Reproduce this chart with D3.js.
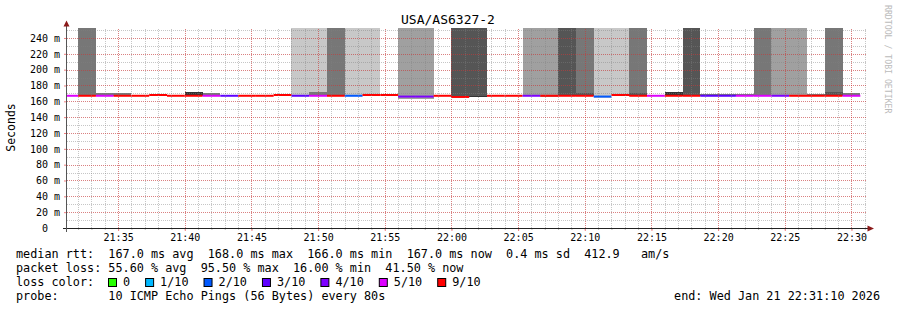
<!DOCTYPE html>
<html>
<head>
<meta charset="utf-8">
<script src="https://cdn.jsdelivr.net/npm/d3@7"></script>
<style>
body { margin: 0; background: #fff; }
svg { display: block; }
text { font-family: "DejaVu Sans Mono", monospace; white-space: pre; fill: #000; }
</style>
</head>
<body>
<svg id="chart" width="897" height="310"></svg>
<script>
"use strict";

// rrd steps (80s each), start time of every step
const stepStarts = [
    "21:30:40", "21:32:00", "21:33:20", "21:34:40", "21:36:00", "21:37:20", "21:38:40", "21:40:00",
    "21:41:20", "21:42:40", "21:44:00", "21:45:20", "21:46:40", "21:48:00", "21:49:20", "21:50:40",
    "21:52:00", "21:53:20", "21:54:40", "21:56:00", "21:57:20", "21:58:40", "22:00:00", "22:01:20",
    "22:02:40", "22:04:00", "22:05:20", "22:06:40", "22:08:00", "22:09:20", "22:10:40", "22:12:00",
    "22:13:20", "22:14:40", "22:16:00", "22:17:20", "22:18:40", "22:20:00", "22:21:20", "22:22:40",
    "22:24:00", "22:25:20", "22:26:40", "22:28:00", "22:29:20"
];
const stepSeconds = 80;

// median rtt in ms (null = all pings lost)
const median = [
    167, 167, 167, 167, 167, 168, 167, 167, 167, 167, 167, 167, 168, 167, 167, 167,
    167, 168, 168, 166, 166, 167, 165.5, null, 167, 167, 167, 167, 167, 167, 166, 168,
    167, 167, 167, 167, 167, 167, 167, 167, 167, 167, 167, 167, 167
];

// lost pings out of 10
const lossCount = [
    5, 9, 5, 9, 9, 9, 9, 9, 5, 3, 9, 9, 9, 3, 5, 9,
    2, 9, 9, 4, 4, 9, 9, 10, 9, 9, 4, 9, 9, 9, 2, 9,
    9, 5, 9, 9, 3, 3, 5, 5, 4, 9, 9, 9, 5
];

// outer smoke: top in ms (goes past the top of the graph) and density 1..5
const smokeTop = [
    null, 300, null, null, null, null, null, null, null, null, null, null, null, 300, 300, 300,
    300, 300, null, 300, 300, null, 300, 300, null, null, 300, 300, 300, 300, 300, 300,
    300, null, null, 300, null, null, null, 300, 300, 300, null, 300, null
];
const smokeDensity = [
    0, 3, 0, 0, 0, 0, 0, 0, 0, 0, 0, 0, 0, 1, 1, 3,
    1, 1, 0, 2, 2, 0, 4, 4, 0, 0, 2, 2, 4, 3, 1, 1,
    3, 0, 0, 4, 0, 0, 0, 3, 2, 2, 0, 3, 0
];
// lowest ping in ms where it sits below the median
const smokeBottom = [
    null, null, null, null, null, null, null, null, null, null, null, null, null, null, null, null,
    null, null, null, 163.5, 163.5, null, 165, 165.8, null, null, null, 165, null, null, 164.5, null,
    null, null, null, null, null, null, null, null, null, null, null, null, null
];

// inner smoke close to the median
const coreTop = [
    null, null, 170, 170, null, null, null, 171.5, 170, null, null, null, null, null, 172, null,
    null, null, null, null, null, null, null, 167.2, null, null, null, null, null, 170.5, null, null,
    170, null, 172, null, 169.5, 169.5, 169.5, null, null, null, 169.5, 171.5, 171
];
const coreDensity = [
    0, 0, 3, 3, 0, 0, 0, 5, 3, 0, 0, 0, 0, 0, 3, 0,
    0, 0, 0, 0, 0, 0, 0, 5, 0, 0, 0, 0, 0, 4, 0, 0,
    4, 0, 5, 0, 3, 3, 3, 0, 0, 0, 3, 4, 3
];

const yTicks = [0, 20, 40, 60, 80, 100, 120, 140, 160, 180, 200, 220, 240];
const lossLevels = [0, 1, 2, 3, 4, 5, 9];
const lossLabels = ["0", "1/10", "2/10", "3/10", "4/10", "5/10", "9/10"];
const lossColors = ["#26ff00", "#00b8ff", "#0059ff", "#5e00ff", "#7e00ff", "#dd00ff", "#ff0000"];

const title = "USA/AS6327-2";
const legendRows = [
    "median rtt:  167.0 ms avg  168.0 ms max  166.0 ms min  167.0 ms now  0.4 ms sd  412.9   am/s",
    "packet loss: 55.60 % avg  95.50 % max  16.00 % min  41.50 % now"
];
const probeText = "probe:       10 ICMP Echo Pings (56 Bytes) every 80s";
const endText = "end: Wed Jan 21 22:31:10 2026";

const parseTime = d3.timeParse("%Y-%m-%d %H:%M:%S");
const startTime = parseTime("2026-01-21 21:31:10");
const endTime = parseTime("2026-01-21 22:31:10");

const svg = d3.select("#chart");

const x = d3.scaleTime().domain([startTime, endTime]).range([67, 867]);
const y = d3.scaleLinear().domain([0, 252.6]).range([228, 28]);

const lossColor = d3.scaleThreshold()
    .domain(lossLevels.slice(1))
    .range(lossColors);
const gray = d3.scaleOrdinal()
    .domain([1, 2, 3, 4, 5])
    .range(["#c8c8c8", "#a0a0a0", "#777777", "#555555", "#333333"]);

const steps = stepStarts.map((s, i) => {
    const t0 = parseTime("2026-01-21 " + s);
    return {
        t0: t0,
        t1: d3.timeSecond.offset(t0, stepSeconds),
        med: median[i],
        loss: lossCount[i],
        top: smokeTop[i],
        dens: smokeDensity[i],
        bottom: smokeBottom[i] != null ? smokeBottom[i] : median[i],
        core: coreTop[i],
        coreDens: coreDensity[i]
    };
});

svg.append("clipPath").attr("id", "plot")
    .append("rect").attr("x", 67).attr("y", 28).attr("width", 800).attr("height", 200);

const plot = svg.append("g").attr("clip-path", "url(#plot)");

// outer smoke
plot.append("g").selectAll("rect")
    .data(steps.filter(d => d.top != null))
    .join("rect")
    .attr("shape-rendering", "crispEdges")
    .attr("x", d => x(d.t0))
    .attr("width", d => x(d.t1) - x(d.t0))
    .attr("y", d => y(d.top))
    .attr("height", d => y(d.bottom) - y(d.top))
    .attr("fill", d => gray(d.dens));

// inner smoke
plot.append("g").selectAll("rect")
    .data(steps.filter(d => d.core != null))
    .join("rect")
    .attr("shape-rendering", "crispEdges")
    .attr("x", d => x(d.t0))
    .attr("width", d => x(d.t1) - x(d.t0))
    .attr("y", d => y(d.core))
    .attr("height", d => y(d.bottom) - y(d.core))
    .attr("fill", d => gray(d.coreDens));

// grid, drawn over the smoke like rrdtool does
function grid(axis, cls, color) {
    const g = svg.append("g").attr("class", cls).call(axis);
    g.select(".domain").remove();
    g.selectAll("line")
        .attr("stroke", color)
        .attr("stroke-dasharray", "1,1")
        .attr("shape-rendering", "crispEdges");
    return g;
}

grid(d3.axisBottom(x).ticks(d3.timeMinute.every(1)).tickSize(-200).tickFormat(""),
    "xminor", "rgba(128,128,128,0.45)")
    .attr("transform", "translate(0,228)");
grid(d3.axisLeft(y).ticks(25).tickSize(-800).tickFormat(""),
    "yminor", "rgba(128,128,128,0.45)")
    .attr("transform", "translate(67,0)")
    .selectAll(".tick").filter(d => d === 0).remove();
grid(d3.axisBottom(x).ticks(d3.timeMinute.every(5)).tickSize(-200).tickFormat(""),
    "xmajor", "rgba(255,0,0,0.35)")
    .attr("transform", "translate(0,228)");
grid(d3.axisLeft(y).tickValues(yTicks.slice(1)).tickSize(-800).tickFormat(""),
    "ymajor", "rgba(255,0,0,0.35)")
    .attr("transform", "translate(67,0)");

// median line coloured by loss
const seg = d3.line().x(d => d[0]).y(d => d[1]);
plot.append("g").selectAll("path")
    .data(steps.filter(d => d.med != null))
    .join("path")
    .attr("d", d => seg([[x(d.t0), y(d.med)], [x(d.t1), y(d.med)]]))
    .attr("fill", "none")
    .attr("stroke", d => lossColor(d.loss))
    .attr("stroke-width", 2);

// x axis labels and ticks
const xMinorTicks = svg.append("g")
    .attr("transform", "translate(0,228)")
    .call(d3.axisBottom(x).ticks(d3.timeMinute.every(1)).tickSize(2).tickFormat(""));
xMinorTicks.select(".domain").remove();
xMinorTicks.selectAll("line").attr("stroke", "#bbb");

const xAxis = svg.append("g")
    .attr("transform", "translate(0,228)")
    .call(d3.axisBottom(x).ticks(d3.timeMinute.every(5)).tickSize(3)
        .tickFormat(d3.timeFormat("%H:%M")));
xAxis.select(".domain").remove();
xAxis.selectAll("line").attr("stroke", "#f08080");
xAxis.selectAll("text")
    .attr("y", 13).attr("dy", 0)
    .style("font-size", "10px")
    .style("font-family", "'DejaVu Sans Mono', monospace");

// y axis labels
const yAxis = svg.append("g")
    .attr("transform", "translate(67,0)")
    .call(d3.axisLeft(y).tickValues(yTicks).tickSize(3)
        .tickFormat(d => d === 0 ? "  0  " : String(d).padStart(3, " ") + " m"));
yAxis.select(".domain").remove();
yAxis.selectAll("line").attr("stroke", "#f08080");
yAxis.selectAll("text")
    .attr("x", -37)
    .attr("text-anchor", "start")
    .style("font-size", "10px")
    .style("font-family", "'DejaVu Sans Mono', monospace");

// axis lines with arrows
svg.append("line")
    .attr("x1", 63).attr("x2", 868).attr("y1", 228.5).attr("y2", 228.5)
    .attr("stroke", "#222").attr("shape-rendering", "crispEdges");
svg.append("line")
    .attr("x1", 66.5).attr("x2", 66.5).attr("y1", 232).attr("y2", 24)
    .attr("stroke", "#555").attr("shape-rendering", "crispEdges");
svg.append("path")
    .attr("d", "M63.5,26.5L66.5,20.5L69.5,26.5Z")
    .attr("fill", "#8b1a1a");
svg.append("path")
    .attr("d", "M867.5,225.5L874,228.5L867.5,231.5Z")
    .attr("fill", "#8b1a1a");

// title and side texts
svg.append("text")
    .attr("x", 448).attr("y", 24)
    .attr("text-anchor", "middle")
    .style("font-size", "13px")
    .text(title);

svg.append("text")
    .attr("transform", "translate(15,127.5) rotate(-90)")
    .attr("text-anchor", "middle")
    .style("font-size", "11.5px")
    .text("Seconds");

svg.append("text")
    .attr("transform", "translate(885,5) rotate(90)")
    .style("font-size", "8.2px")
    .style("fill", "#bbb")
    .text("RRDTOOL / TOBI OETIKER");

// legend
const legendFont = "11.8px";
legendRows.forEach((row, i) => {
    svg.append("text")
        .attr("x", 16).attr("y", 258 + i * 14)
        .style("font-size", legendFont)
        .text(row);
});

svg.append("text")
    .attr("x", 16).attr("y", 286)
    .style("font-size", legendFont)
    .text("loss color:");

let lx = 108;
lossLevels.forEach((lv, i) => {
    svg.append("rect")
        .attr("x", lx + 0.5).attr("y", 278.5)
        .attr("width", 8).attr("height", 8)
        .attr("fill", lossColors[i])
        .attr("stroke", "#000");
    const t = svg.append("text")
        .attr("x", lx + 15).attr("y", 286)
        .style("font-size", legendFont)
        .text(lossLabels[i]);
    lx += 15 + t.node().getComputedTextLength() + 15;
});

svg.append("text")
    .attr("x", 16).attr("y", 300)
    .style("font-size", legendFont)
    .text(probeText);

svg.append("text")
    .attr("x", 880).attr("y", 300)
    .attr("text-anchor", "end")
    .style("font-size", legendFont)
    .text(endText);
</script>
</body>
</html>
